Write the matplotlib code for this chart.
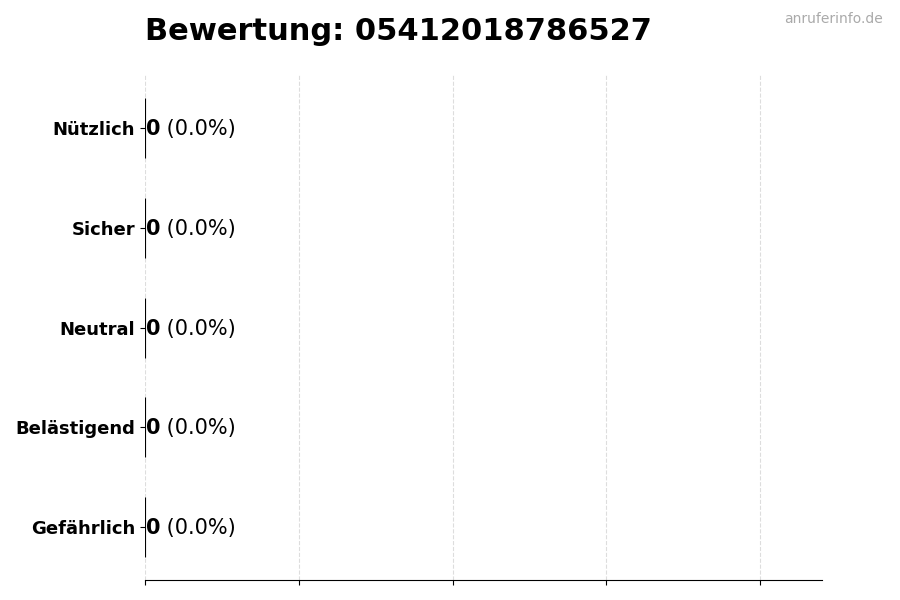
import numpy as np
import matplotlib
matplotlib.use("Agg")
from matplotlib import pyplot as plt

categories = ["Gefährlich", "Belästigend", "Neutral", "Sicher", "Nützlich"]
counts = [0, 0, 0, 0, 0]
percents = [0.0, 0.0, 0.0, 0.0, 0.0]
number = "05412018786527"

fig = plt.figure(figsize=(9, 6), dpi=100)
ax = fig.add_axes([0.161, 0.033, 0.752, 0.842])

y = np.arange(len(categories))
ax.barh(y, counts, height=0.6, color="#4caf50", edgecolor="black", linewidth=0.8)

ax.set_yticks(y)
ax.set_yticklabels(categories, fontsize=13, fontweight="bold")
ax.set_xlim(0, 4.4)
ax.set_xticks([0, 1, 2, 3, 4])
ax.set_xticklabels([])
ax.grid(axis="x", linestyle="--", color="#dddddd", linewidth=0.8)
ax.set_axisbelow(True)
for s in ["top", "right", "left"]:
    ax.spines[s].set_visible(False)

#value labels: bold count followed by percentage
for yi, c, p in zip(y, counts, percents):
    t = ax.text(c + 0.005, yi - 0.01, f"{c}", fontsize=15, fontweight="bold", va="center", ha="left")
    ax.annotate(f" ({p:.1f}%)", xycoords=t, xy=(1, 0.5), va="center", ha="left", fontsize=15)

fig.text(0.161, 0.947, f"Bewertung: {number}", fontsize=22, fontweight="bold", ha="left", va="center")
fig.text(0.981, 0.969, "anruferinfo.de", fontsize=10, color="#aaaaaa", ha="right", va="center")

fig.savefig("out.png", dpi=100)
